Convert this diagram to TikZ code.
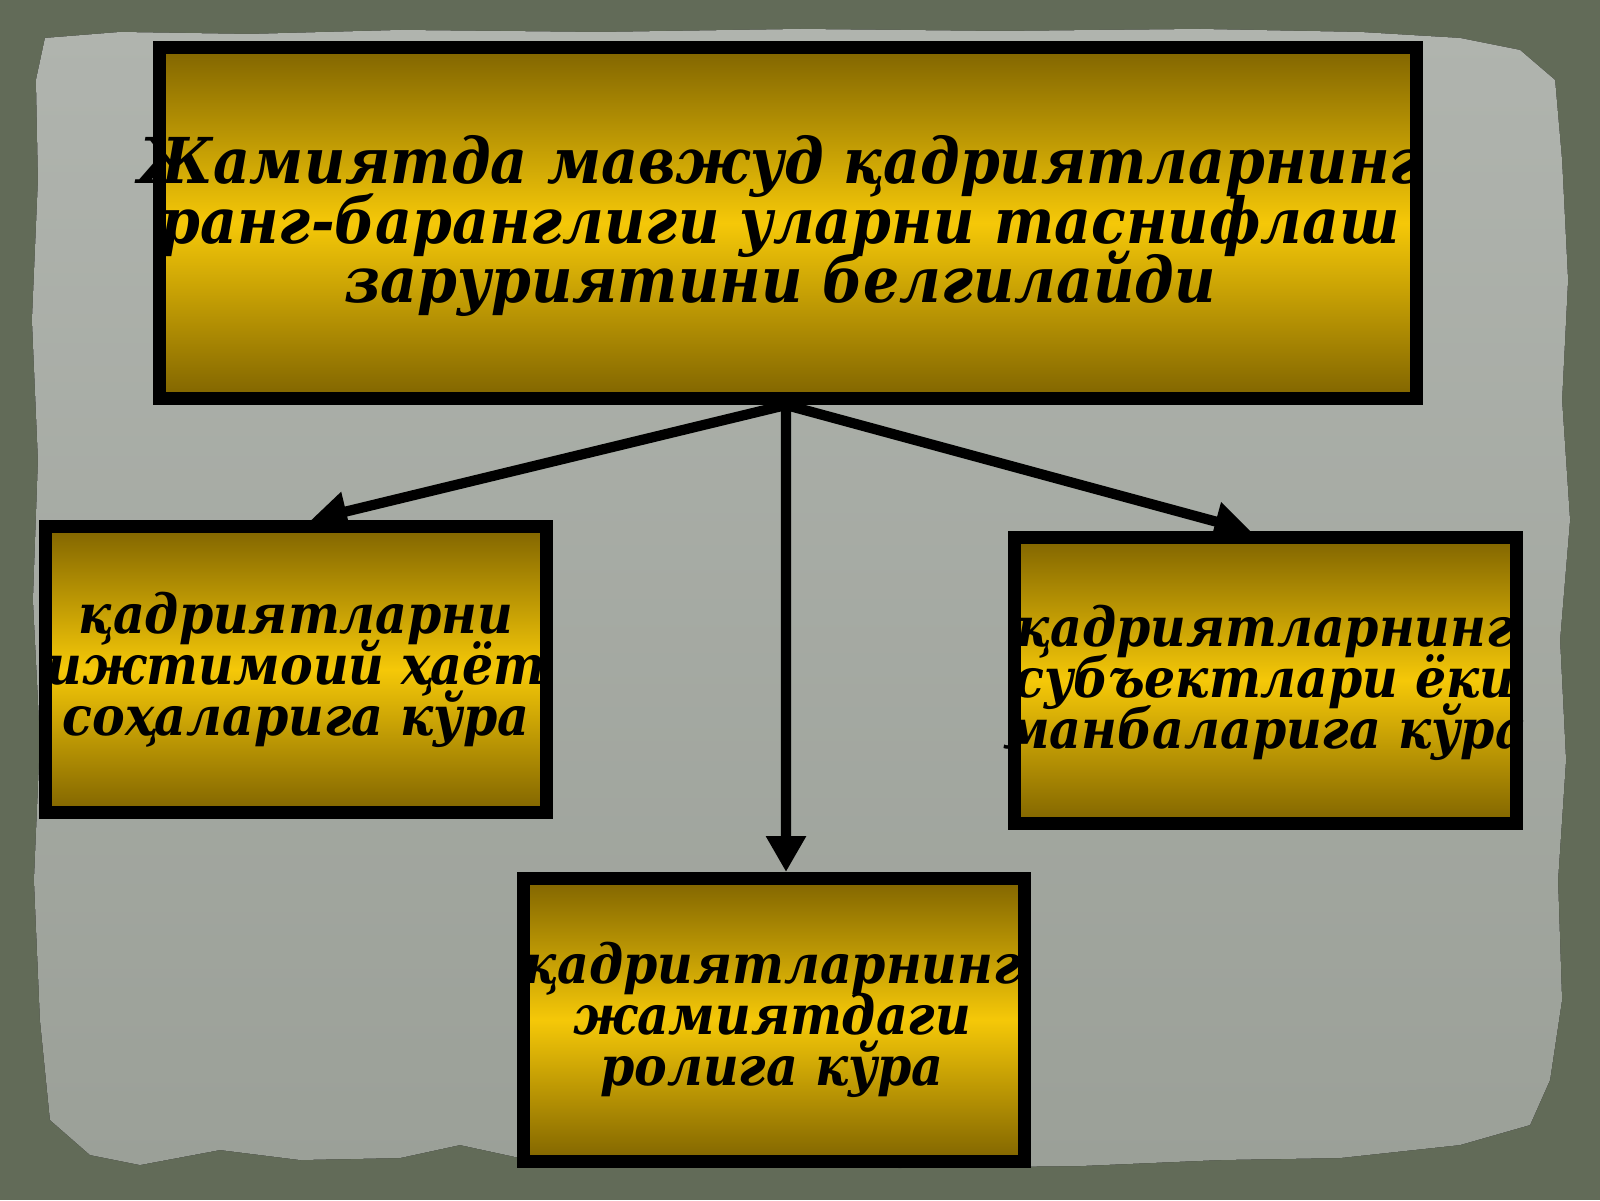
\documentclass[tikz,border=0pt]{standalone}
\usepackage{fontspec}
\setmainfont[FakeStretch=0.9]{DejaVu Serif}
\usetikzlibrary{arrows.meta}

\definecolor{wallGreen}{RGB}{98,107,88}
\definecolor{paperGrey}{RGB}{155,160,152}
\definecolor{paperLight}{RGB}{176,180,174}
\definecolor{goldDark}{RGB}{128,100,0}
\definecolor{goldLight}{RGB}{245,200,8}

\newcommand{\tightlines}{\lineskiplimit=-20pt\relax}

\begin{document}
\begin{tikzpicture}[
    box/.style={draw=black, line width=3.7pt, top color=goldDark, bottom color=goldDark, middle color=goldLight, inner sep=0pt},
    bigtext/.style={align=center, inner sep=0pt, font={\bfseries\itshape\fontsize{18}{17}\selectfont\tightlines}},
    smalltext/.style={align=center, inner sep=0pt, font={\bfseries\itshape\fontsize{15.5}{14.5}\selectfont\tightlines}},
    link/.style={line width=2.9pt, -{Triangle[width=0.38cm,length=0.36cm]}}
  ]
    % Wall and torn paper
    \useasboundingbox (0,0) rectangle (16,12);
    \fill[wallGreen] (0,0) rectangle (16,12);
    \fill[top color=paperLight, bottom color=paperGrey]
        (0.45,11.62) -- (1.2,11.68) -- (2.5,11.66) -- (4,11.70) -- (6,11.68) -- (8,11.71)
        -- (10,11.69) -- (12,11.71) -- (13.6,11.68) -- (14.6,11.62) -- (15.2,11.50)
        -- (15.55,11.2) -- (15.62,10.4) -- (15.68,9.2) -- (15.62,8.0) -- (15.70,6.8)
        -- (15.60,5.6) -- (15.66,4.4) -- (15.58,3.2) -- (15.62,2.0) -- (15.50,1.2)
        -- (15.30,0.75) -- (14.6,0.55) -- (13.4,0.42) -- (12.2,0.40) -- (10.8,0.34)
        -- (9.0,0.32) -- (7.0,0.34) -- (5.2,0.42) -- (4.6,0.55) -- (4.0,0.42)
        -- (3.0,0.40) -- (2.2,0.50) -- (1.4,0.35) -- (0.9,0.45) -- (0.5,0.80)
        -- (0.40,1.8) -- (0.34,3.2) -- (0.40,4.6) -- (0.33,6.0) -- (0.38,7.4)
        -- (0.32,8.8) -- (0.38,10.2) -- (0.36,11.2) -- cycle;

    % Boxes
    \node[box, minimum width=12.57cm, minimum height=3.51cm] (top) at (7.88,9.77) {};
    \node[box, minimum width=5.01cm, minimum height=2.86cm] (leftBox) at (2.96,5.305) {};
    \node[box, minimum width=5.02cm, minimum height=2.86cm] (rightBox) at (12.655,5.195) {};
    \node[box, minimum width=5.01cm, minimum height=2.83cm] (bottomBox) at (7.74,1.80) {};

    % Arrows
    \coordinate (fork) at ([xshift=-0.02cm]top.south);
    \draw[link] (fork) -- ([xshift=0.15cm]leftBox.north);
    \draw[link] (fork) -- ([xshift=0.12cm]bottomBox.north);
    \draw[link] (fork) -- ([xshift=-0.15cm]rightBox.north);

    % Texts
    \node[bigtext] (topText) at (7.80,9.74)
        {Жамиятда мавжуд қадриятларнинг\\ранг-баранглиги уларни таснифлаш\\заруриятини белгилайди};
    \node[smalltext] (leftText) at (2.96,5.30)
        {қадриятларни\\ижтимоий ҳаёт\\соҳаларига кўра};
    \node[smalltext] (rightText) at (12.65,5.17)
        {қадриятларнинг\\субъектлари ёки\\манбаларига кўра};
    \node[smalltext] (bottomText) at (7.72,1.80)
        {қадриятларнинг\\жамиятдаги\\ролига кўра};

\end{tikzpicture}
\end{document}
